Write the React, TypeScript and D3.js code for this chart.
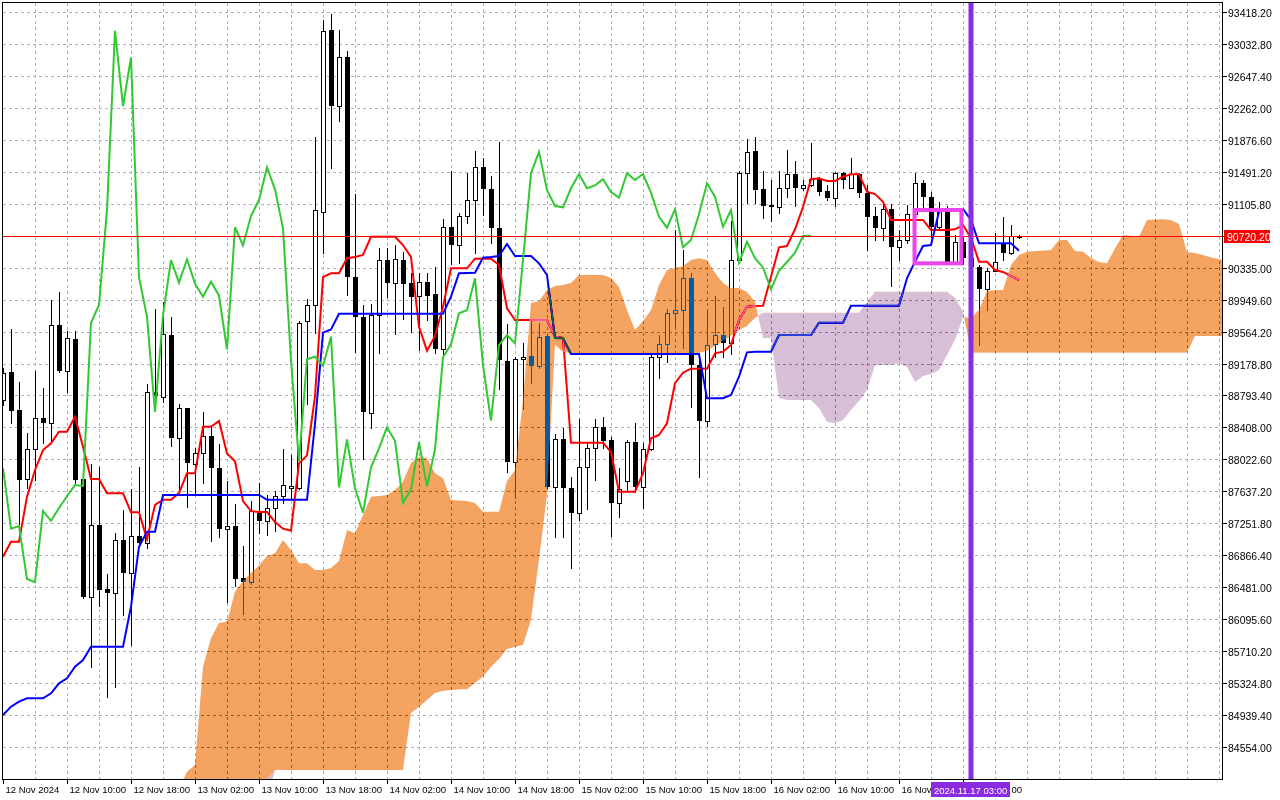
import * as d3 from "d3";

// BTC H1, bars from 12 Nov 02:00 (bar 0) to 17 Nov 09:00 (bar 127)
const openP = [
  88739, 89073, 88618, 87783, 88145, 88518, 88465, 89643, 89092, 89471,
  87783, 86367, 87232, 86460, 86415, 87051, 86656, 87099, 87011, 88836,
  88772, 89527, 88286, 88644, 87965, 88094, 88310, 87918, 87187, 87220,
  86590, 86542, 87378, 87282, 87436, 87584, 87678, 87678, 89694, 89885,
  91007, 93204, 92283, 92870, 90220, 89742, 88586, 89761, 90427, 90154,
  90427, 90146, 89993, 90166, 90017, 89350, 90822, 90604, 90958, 91150,
  91545, 91280, 90810, 89213, 87995, 89230, 89270, 89149, 89511, 87686,
  88265, 87674, 87380, 87927, 88156, 88410, 88257, 87501, 87766, 88229,
  87694, 88145, 89254, 89411, 89785, 89821, 90207, 89161, 88490, 89411,
  89523, 89423, 90427, 91480, 91742, 91280, 91090, 91063, 91292, 91464,
  91292, 91328, 91401, 91259, 91179, 91473, 91292, 91464, 91239, 90958,
  90817, 91038, 90580, 90668, 90978, 91352, 91183, 90829, 91038, 90395,
  90648, 90450, 90338, 90073, 90298, 90629, 90515, 90701,
];
const highP = [
  89125, 89592, 88960, 88338, 89092, 88887, 89945, 90038, 89575, 89575,
  87790, 87967, 87935, 86641, 87139, 87413, 87666, 87935, 88932, 89836,
  89924, 89742, 88691, 88644, 88166, 88595, 88429, 88213, 87760, 87487,
  86982, 87521, 87736, 87593, 87642, 88152, 88071, 89694, 89957, 91915,
  93324, 93395, 93204, 92942, 91223, 89885, 89897, 90576, 90568, 90608,
  90527, 90274, 90267, 90267, 90347, 90918, 91504, 90990, 91473, 91745,
  91654, 91440, 91854, 89652, 89257, 89423, 89712, 89672, 89535, 88330,
  88398, 87814, 88506, 88236, 88506, 88530, 88296, 87915, 88257, 88458,
  88224, 89309, 89523, 89836, 90789, 90548, 90267, 89261, 89824, 89993,
  89857, 90901, 91504, 91883, 91914, 91504, 91392, 91504, 91754, 91625,
  91392, 91842, 91432, 91332, 91492, 91492, 91654, 91473, 91332, 91070,
  91102, 91102, 90789, 91090, 91473, 91392, 91251, 91130, 91078, 90729,
  90700, 90500, 90367, 90331, 90749, 90949, 90850, 90729,
];
const lowP = [
  88679, 88465, 87232, 87674, 87774, 88217, 88217, 89080, 88839, 87734,
  86355, 85523, 86255, 85161, 85275, 86146, 85785, 86970, 86951, 88739,
  88719, 88190, 87593, 87449, 87593, 87736, 87044, 87092, 86303, 86496,
  86160, 86520, 87139, 87115, 87163, 87497, 87545, 87666, 88691, 89551,
  90506, 91533, 92106, 90005, 89312, 88023, 88398, 89302, 89985, 89535,
  89712, 89563, 89342, 89704, 89309, 89261, 90379, 90395, 90877, 90508,
  90970, 90629, 88868, 87874, 87554, 88627, 88948, 89125, 87674, 87083,
  87083, 86710, 87292, 87421, 87774, 88156, 87099, 87325, 87633, 87633,
  87433, 88136, 89001, 89201, 89631, 89362, 88658, 87814, 88425, 89261,
  89254, 89294, 90403, 91118, 91118, 90930, 90901, 90990, 91191, 91078,
  91271, 91320, 91211, 91151, 91078, 91292, 91292, 91191, 90548, 90669,
  90669, 90114, 90427, 90629, 90837, 91051, 90708, 90813, 90391, 90391,
  90380, 90300, 89402, 89824, 90290, 90427, 90500, 90693,
];
const closeP = [
  89068, 88610, 87774, 88145, 88518, 88465, 89643, 89092, 89483, 87774,
  86367, 87232, 86448, 86415, 87051, 86649, 87099, 87011, 88839, 88787,
  89535, 88286, 88644, 87974, 88094, 88310, 87918, 87187, 87220, 86580,
  86542, 87402, 87282, 87436, 87579, 87713, 87702, 89670, 89885, 91032,
  93190, 92283, 92870, 90220, 89742, 88595, 89761, 90427, 90154, 90436,
  90142, 89985, 90166, 89997, 89350, 90822, 90604, 90958, 91150, 91545,
  91280, 90810, 89221, 87995, 89230, 89261, 89149, 89503, 87686, 88265,
  87674, 87380, 87927, 88156, 88410, 88248, 87501, 87662, 88229, 87694,
  88145, 89254, 89411, 89785, 89821, 90207, 89161, 88490, 89402, 89523,
  89423, 90427, 91473, 91733, 91271, 91078, 91063, 91292, 91464, 91292,
  91328, 91401, 91247, 91179, 91473, 91392, 91464, 91239, 90949, 90817,
  91038, 90580, 90668, 90978, 91352, 91191, 90829, 91030, 90395, 90648,
  90450, 90338, 90073, 90298, 90403, 90515, 90716, 90720.2,
];

// Ichimoku lines
const tenkan = [
  86849, 87030, 87030, 87573, 87895, 88136, 88217, 88357, 88357, 88538,
  88176, 87786, 87786, 87614, 87614, 87614, 87385, 87385, 87059, 87473,
  87536, 87536, 87616, 87855, 87855, 88415, 88415, 88486, 88094, 88000,
  87521, 87400, 87388, 87388, 87268, 87187, 87163, 87975, 88071, 88787,
  90220, 90267, 90267, 90449, 90463, 90488, 90708, 90708, 90708, 90708,
  90608, 90463, 89623, 89334, 89511, 89864, 90327, 90327, 90327, 90443,
  90443, 90443, 90367, 89845, 89704, 89704, 89704, 89704, 89704, 89503,
  89487, 88224, 88224, 88224, 88224, 88224, 88112, 87633, 87633, 87633,
  87855, 88277, 88317, 88458, 88941, 89068, 89117, 89117, 89117, 89302,
  89322, 89402, 89704, 89864, 89873, 89876, 90226, 90580, 90596, 90798,
  91066, 91401, 91413, 91380, 91380, 91432, 91461, 91461, 91251, 91223,
  91130, 90910, 90910, 90910, 90910, 90910, 90789, 90789, 90789, 90798,
  90849, 90693, 90407, 90407, 90307, 90283, 90234, 90186,
];
const kijun = [
  84941, 85041, 85101, 85142, 85142, 85142, 85202, 85323, 85383, 85523,
  85604, 85764, 85764, 85764, 85764, 85764, 86247, 86970, 87151, 87151,
  87594, 87594, 87594, 87594, 87594, 87594, 87594, 87594, 87594, 87594,
  87594, 87594, 87594, 87536, 87536, 87536, 87536, 87536, 87536, 88452,
  89551, 89589, 89780, 89780, 89780, 89780, 89780, 89780, 89780, 89780,
  89780, 89780, 89780, 89780, 89780, 89780, 89985, 90267, 90271, 90274,
  90455, 90463, 90476, 90620, 90476, 90476, 90476, 90387, 90246, 89487,
  89483, 89294, 89294, 89294, 89294, 89294, 89294, 89294, 89294, 89294,
  89294, 89294, 89294, 89294, 89294, 89294, 89294, 89294, 88760, 88760,
  88760, 88799, 89020, 89314, 89321, 89321, 89321, 89523, 89523, 89523,
  89523, 89523, 89671, 89671, 89671, 89671, 89876, 89876, 89876, 89876,
  89876, 89876, 89876, 90207, 90407, 90596, 90608, 91010, 91042, 91042,
  91042, 90910, 90629, 90629, 90629, 90629, 90629, 90539,
];
// Senkou spans, already shifted 26 bars ahead (bars 0..153)
const spanA = [
  83916, 83916, 83916, 83916, 83916, 83916, 83916, 83916, 83916, 83916,
  83916, 83916, 83916, 83916, 83916, 83916, 83916, 83916, 83916, 83916,
  83916, 83916, 84036, 84257, 84338, 85523, 85869, 86050, 86066, 86427,
  86556, 86653, 86743, 86858, 86890, 87051, 86930, 86770, 86770, 86689,
  86689, 86713, 86798, 87171, 87131, 87352, 87573, 87581, 87593, 87654,
  87754, 87979, 88052, 88040, 87855, 87795, 87533, 87527, 87521, 87497,
  87392, 87392, 87392, 87762, 87895, 88739, 89909, 89933, 90066, 90114,
  90126, 90150, 90246, 90246, 90246, 90246, 90210, 90102, 89824, 89583,
  89692, 89824, 90126, 90307, 90331, 90355, 90427, 90448, 90427, 90271,
  90150, 90090, 90090, 90041, 89924, 89487, 89483, 88763, 88739, 88739,
  88739, 88739, 88643, 88474, 88458, 88498, 88619, 88727, 88860, 89161,
  89161, 89161, 89182, 89137, 88956, 89028, 89052, 89101, 89282, 89463,
  89740, 89728, 89824, 90054, 90066, 90066, 90367, 90488, 90527, 90536,
  90542, 90548, 90668, 90668, 90536, 90527, 90451, 90403, 90387, 90568,
  90729, 90717, 90708, 90910, 90916, 90918, 90910, 90861, 90524, 90512,
  90488, 90458, 90440, 90415,
];
const spanB = [
  83916, 83916, 83916, 83916, 83916, 83916, 83916, 83916, 83916, 83916,
  83916, 83916, 83916, 83916, 83916, 83916, 83916, 83916, 83916, 83916,
  83916, 83916, 83916, 83916, 83916, 83916, 83916, 83916, 83916, 83916,
  83916, 83916, 83916, 83916, 84277, 84277, 84277, 84277, 84277, 84277,
  84277, 84277, 84277, 84277, 84277, 84277, 84277, 84277, 84277, 84277,
  84277, 84965, 85037, 85121, 85206, 85230, 85242, 85248, 85250, 85326,
  85402, 85519, 85616, 85736, 85760, 85785, 86086, 86810, 87594, 89402,
  89318, 89306, 89306, 89306, 89306, 89306, 89306, 89306, 89306, 89306,
  89306, 89306, 89306, 89306, 89306, 89306, 89306, 89306, 89330, 89390,
  89451, 89511, 89583, 89632, 89728, 89792, 89792, 89792, 89792, 89792,
  89792, 89792, 89792, 89792, 89792, 89792, 89792, 89792, 89921, 90045,
  90045, 90045, 90045, 90045, 90045, 90045, 90045, 90045, 90045, 89969,
  89804, 89309, 89309, 89309, 89309, 89309, 89309, 89309, 89309, 89309,
  89309, 89309, 89309, 89309, 89309, 89309, 89309, 89309, 89309, 89309,
  89309, 89309, 89309, 89309, 89309, 89309, 89309, 89309, 89309, 89511,
  89511, 89511, 89511, 89511,
];

const priceTicks = [
  93418.2, 93032.8, 92647.4, 92262.0, 91876.6, 91491.2, 91105.8, 90720.4,
  90335.0, 89949.6, 89564.2, 89178.8, 88793.4, 88408.0, 88022.6, 87637.2,
  87251.8, 86866.4, 86481.0, 86095.6, 85710.2, 85324.8, 84939.4, 84554.0,
];
const timeTickBars = [0, 8, 16, 24, 32, 40, 48, 56, 64, 72, 80, 88, 96, 104, 112, 120];
const timeLabels = [
  "12 Nov 2024", "12 Nov 10:00", "12 Nov 18:00", "13 Nov 02:00", "13 Nov 10:00",
  "13 Nov 18:00", "14 Nov 02:00", "14 Nov 10:00", "14 Nov 18:00", "15 Nov 02:00",
  "15 Nov 10:00", "15 Nov 18:00", "16 Nov 02:00", "16 Nov 10:00", "16 Nov 18:00",
  "17 Nov 02:00",
];
// parts of the last two labels that stay visible around the marker label
const visibleParts: Record<number, { text: string; dx: number }> = {
  14: { text: "16 Nov", dx: 0 },
  15: { text: "00", dx: 46 },
};

const lastPrice = 90720.2;
const markerBar = 121;
const markerLabel = "2024.11.17 03:00";
const box = { startBar: 113.94, endBar: 119.8, high: 91030, low: 90387 };

const plot = { left: 3, top: 3, right: 1222, bottom: 779 };
const FONT = "'Liberation Sans', Arial, sans-serif";

export default function App() {
  const x = d3.scaleLinear().domain([0, 152.375]).range([plot.left, plot.right]);
  const y = d3.scaleLinear().domain([84168.7, 93526.5]).range([plot.bottom, plot.top]);

  const clampX = (v: number) => Math.max(plot.left, Math.min(plot.right, v));
  const clampY = (v: number) => Math.max(plot.top, Math.min(plot.bottom, v));

  const line = d3
    .line<number>()
    .x((_, i) => x(i))
    .y((v) => y(v));
  const chikou = closeP.slice(26);

  const between = d3
    .area<number>()
    .x((_, i) => x(i))
    .y0((a) => y(a))
    .y1((_, i) => y(spanB[i]))(spanA);
  const aboveB = d3
    .area<number>()
    .x((_, i) => clampX(x(i)))
    .y0(plot.top)
    .y1((b) => clampY(y(b)))(spanB);
  const belowB = d3
    .area<number>()
    .x((_, i) => clampX(x(i)))
    .y0((b) => clampY(y(b)))
    .y1(plot.bottom)(spanB);

  const vGrid = d3.range(4, 153, 4);
  const bidY = Math.round(y(lastPrice)) + 0.5;
  const markerX = Math.round(x(markerBar)) - 0.5;

  return (
    <div style={{ position: "absolute", left: 0, top: 0 }}>
      <svg width={1280} height={800} style={{ display: "block" }}>
        <defs>
          <clipPath id="plotClip">
            <rect x={plot.left} y={plot.top} width={plot.right - plot.left} height={plot.bottom - plot.top} />
          </clipPath>
          <clipPath id="aboveB">
            <path d={aboveB ?? ""} />
          </clipPath>
          <clipPath id="belowB">
            <path d={belowB ?? ""} />
          </clipPath>
        </defs>
        <rect x={0} y={0} width={1280} height={800} fill="#ffffff" />

        {/* grid */}
        <g stroke="#b4aeb8" strokeDasharray="3 3" shapeRendering="crispEdges">
          {priceTicks.map((p) => (
            <line key={p} x1={plot.left} x2={plot.right} y1={Math.round(y(p)) + 0.5} y2={Math.round(y(p)) + 0.5} />
          ))}
          {vGrid.map((b) => (
            <line key={b} x1={Math.round(x(b)) + 0.5} x2={Math.round(x(b)) + 0.5} y1={plot.top} y2={plot.bottom} />
          ))}
        </g>

        {/* candles */}
        <g clipPath="url(#plotClip)" shapeRendering="crispEdges">
          {openP.map((o, i) => {
            const c = closeP[i];
            const cx = Math.round(x(i));
            const yH = Math.round(y(highP[i]));
            const yL = Math.round(y(lowP[i]));
            const yTop = Math.round(y(Math.max(o, c)));
            const yBot = Math.round(y(Math.min(o, c)));
            const bull = c > o;
            return (
              <g key={i}>
                <line x1={cx + 0.5} x2={cx + 0.5} y1={yH} y2={yL + 1} stroke="#000" />
                {bull ? (
                  <rect x={cx - 1.5} y={yTop + 0.5} width={4} height={Math.max(yBot - yTop, 1)} fill="#fff" stroke="#000" />
                ) : (
                  <rect x={cx - 2} y={yTop} width={5} height={Math.max(yBot - yTop, 1)} fill="#000" />
                )}
              </g>
            );
          })}
        </g>

        {/* tenkan / kijun */}
        <g clipPath="url(#plotClip)" fill="none" strokeWidth={2}>
          <path d={line(tenkan) ?? ""} stroke="#ff0000" />
          <path d={line(kijun) ?? ""} stroke="#0000ff" />
        </g>

        {/* kumo, drawn as xor-like difference over what is below */}
        <path d={between ?? ""} fill="#0b5b9f" clipPath="url(#aboveB)" style={{ mixBlendMode: "difference" }} />
        <path d={between ?? ""} fill="#274027" clipPath="url(#belowB)" style={{ mixBlendMode: "difference" }} />

        {/* chikou */}
        <g clipPath="url(#plotClip)">
          <path d={line(chikou) ?? ""} fill="none" stroke="#32c832" strokeWidth={2} />
        </g>

        {/* bid line */}
        <line x1={plot.left} x2={plot.right} y1={bidY} y2={bidY} stroke="#ff0000" shapeRendering="crispEdges" />

        {/* drawn box */}
        <rect
          x={x(box.startBar)}
          y={y(box.high)}
          width={x(box.endBar) - x(box.startBar)}
          height={y(box.low) - y(box.high)}
          fill="none"
          stroke="#ee44ee"
          strokeWidth={4}
        />

        {/* vertical marker */}
        <rect x={markerX - 2} y={plot.top} width={5} height={plot.bottom - plot.top} fill="#8a2be2" />

        {/* frame */}
        <g stroke="#000" shapeRendering="crispEdges" fill="none">
          <line x1={2.5} x2={2.5} y1={2} y2={plot.bottom + 1} />
          <line x1={2} x2={plot.right + 1} y1={2.5} y2={2.5} />
          <line x1={plot.right + 0.5} x2={plot.right + 0.5} y1={2} y2={plot.bottom + 1} />
          <line x1={2} x2={plot.right + 1} y1={plot.bottom + 0.5} y2={plot.bottom + 0.5} />
        </g>

        {/* price axis */}
        <g fontFamily={FONT} fontSize={10.5} fill="#000">
          {priceTicks.map((p) => {
            const ty = Math.round(y(p)) + 0.5;
            return (
              <g key={p}>
                <line x1={plot.right} x2={plot.right + 5} y1={ty} y2={ty} stroke="#000" shapeRendering="crispEdges" />
                {p !== priceTicks[7] && (
                  <text x={plot.right + 6} y={ty + 4}>
                    {p.toFixed(2)}
                  </text>
                )}
              </g>
            );
          })}
          <rect x={plot.right + 2} y={bidY - 6.5} width={46} height={13} fill="#ff0000" />
          <text x={plot.right + 5} y={bidY + 4} fill="#fff">
            {lastPrice.toFixed(2)}
          </text>
        </g>

        {/* time axis */}
        <g fontFamily={FONT} fontSize={9.5} fill="#000">
          {timeTickBars.map((b, i) => {
            const tx = Math.round(x(b)) + 0.5;
            const part = visibleParts[i];
            return (
              <g key={b}>
                <line x1={tx} x2={tx} y1={plot.bottom} y2={plot.bottom + 5} stroke="#000" shapeRendering="crispEdges" />
                <text x={tx + 2 + (part ? part.dx : 0)} y={793}>
                  {part ? part.text : timeLabels[i]}
                </text>
              </g>
            );
          })}
          <rect x={931} y={782} width={79} height={15} fill="#8a2be2" />
          <text x={934} y={793.5} fill="#fff">
            {markerLabel}
          </text>
        </g>
      </svg>
    </div>
  );
}
